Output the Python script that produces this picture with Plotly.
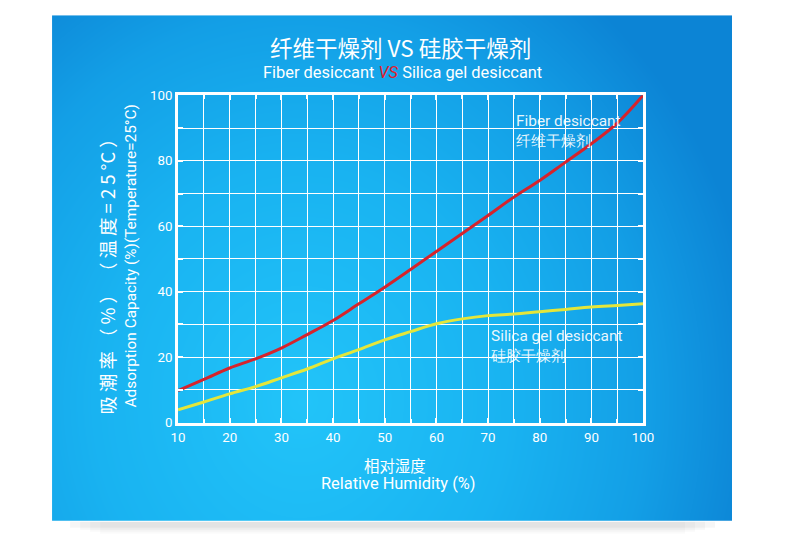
import numpy as np
import plotly.graph_objects as go

# ---------------- data ----------------
humidity = [10, 15, 20, 25, 30, 35, 40, 45, 50, 55, 60, 65, 70, 75, 80, 85, 90, 95, 100]
fiber = [9.8, 13.2, 16.7, 19.5, 22.8, 26.9, 31.2, 36.3, 41.4, 46.8, 52.3, 57.8,
         63.3, 68.9, 74.0, 79.6, 85.2, 91.5, 100.0]
silica = [3.9, 6.3, 8.8, 11.0, 13.7, 16.4, 19.5, 22.3, 25.3, 27.8, 30.2, 31.7,
          32.7, 33.2, 33.9, 34.6, 35.3, 35.8, 36.3]
x_ticks = [10, 20, 30, 40, 50, 60, 70, 80, 90, 100]
y_ticks = [0, 20, 40, 60, 80, 100]

# the photographed page shows an 8px body margin and is scaled slightly;
# map target screen pixel positions to figure fractions
W, H = 793, 543
SX, SY = 809 / 793, 559 / 543
OFF = 8
FS = 1.025  # font compensation

def px(s):
    s = (s + 0.85) / 0.997
    return (s * SX - OFF) / W
def py(s):
    s = s + 1
    return 1 - (s * SY - OFF) / H
def f(size):
    return round(size * FS, 1)

NARROW = "Roboto, sans-serif"
CJK = "Noto Sans CJK SC, sans-serif"

fig = go.Figure()

# background gradient panel (decoration)
gx = np.linspace(0, 680, 69)
gy = np.linspace(0, 505, 52)
GX, GY = np.meshgrid(gx + 52, gy + 15)
Z = np.sqrt(((GX - 300) / 400) ** 2 + ((GY - 400) / 450) ** 2)
fig.add_trace(go.Heatmap(
    x=gx, y=gy, z=Z, zmin=0, zmax=1.15, zsmooth="best", showscale=False,
    hoverinfo="skip",
    colorscale=[[0, "#22C4F9"], [0.45, "#19B3F1"], [0.75, "#139FE6"], [1, "#0C84D5"]],
    xaxis="x", yaxis="y"))

fig.add_trace(go.Scatter(
    x=humidity, y=silica, mode="lines", line=dict(color="#E4E63A", width=3, shape="spline"),
    xaxis="x2", yaxis="y2", cliponaxis=False, showlegend=False))
fig.add_trace(go.Scatter(
    x=humidity, y=fiber, mode="lines", line=dict(color="#D6232C", width=3, shape="spline"),
    xaxis="x2", yaxis="y2", cliponaxis=False, showlegend=False))

ann = []
ann.append(dict(text="纤维干燥剂 VS 硅胶干燥剂", x=px(400), y=py(47), xref="paper", yref="paper",
                showarrow=False, font=dict(family=CJK, size=f(22), color="white"),
                xanchor="center", yanchor="middle"))
ann.append(dict(text="Fiber desiccant <i><span style='color:#E0202E'>VS</span></i> Silica gel desiccant",
                x=px(402), y=py(72), xref="paper", yref="paper", showarrow=False,
                font=dict(family=NARROW, size=f(16), color="white"), xanchor="center", yanchor="middle"))
ann.append(dict(text="吸 潮 率 （ % ） （ 温 度 = 2 5 °C ）", x=px(106), y=py(272), xref="paper", yref="paper",
                showarrow=False, textangle=-90, font=dict(family=CJK, size=f(18), color="white"),
                xanchor="center", yanchor="middle"))
ann.append(dict(text="Adsorption Capacity (%)(Temperature=25°C)", x=px(131), y=py(256), xref="paper",
                yref="paper", showarrow=False, textangle=-90,
                font=dict(family="Roboto, sans-serif", size=f(15), color="white"),
                xanchor="center", yanchor="middle"))
ann.append(dict(text="相对湿度", x=px(395), y=py(464), xref="paper", yref="paper", showarrow=False,
                font=dict(family=CJK, size=f(15), color="white"), xanchor="center", yanchor="middle"))
ann.append(dict(text="Relative Humidity (%)", x=px(398), y=py(483), xref="paper", yref="paper",
                showarrow=False, font=dict(family=NARROW, size=f(16), color="white"),
                xanchor="center", yanchor="middle"))
ann.append(dict(text="Fiber desiccant<br>纤维干燥剂", x=75, y=95.5, xref="x2", yref="y2", showarrow=False,
                align="left", font=dict(family=NARROW, size=f(15), color="rgba(255,255,255,0.92)"),
                xanchor="left", yanchor="top"))
ann.append(dict(text="Silica gel desiccant<br>硅胶干燥剂", x=70, y=29.8, xref="x2", yref="y2",
                showarrow=False, align="left",
                font=dict(family=NARROW, size=f(15), color="rgba(255,255,255,0.92)"),
                xanchor="left", yanchor="top"))

shapes = []
for i, a in enumerate([0.035, 0.03, 0.025, 0.02]):
    shapes.append(dict(type="rect", xref="paper", yref="paper", layer="below",
                       x0=px(70 + i * 10), x1=px(715 - i * 10), y0=py(521), y1=py(527 + i * 2),
                       fillcolor=f"rgba(0,0,0,{a})", line=dict(width=0)))

axis_common = dict(showgrid=True, gridcolor="white", gridwidth=1.3, zeroline=False,
                   ticks="inside", ticklen=5, tickwidth=2, tickcolor="white",
                   showline=True, linecolor="white", linewidth=3, mirror="ticks",
                   tickfont=dict(family=NARROW, size=f(13), color="white"), fixedrange=True)

fig.update_layout(
    width=W, height=H, margin=dict(l=0, r=0, t=0, b=0),
    paper_bgcolor="white", plot_bgcolor="rgba(0,0,0,0)",
    showlegend=False,
    xaxis=dict(domain=[px(52), px(732)], range=[0, 680], visible=False, fixedrange=True, anchor="y"),
    yaxis=dict(domain=[py(520), py(15)], range=[505, 0], visible=False, fixedrange=True, anchor="x"),
    xaxis2=dict(domain=[px(178), px(643)], anchor="y2", range=[10, 100], tickvals=x_ticks,
                minor=dict(tickvals=list(range(15, 100, 10)), showgrid=True, gridcolor="white",
                           gridwidth=1.3, ticks="inside", ticklen=4, tickwidth=2, tickcolor="white"),
                **axis_common),
    yaxis2=dict(domain=[py(422), py(95)], anchor="x2", range=[0, 100], tickvals=y_ticks,
                minor=dict(tickvals=[10, 30, 50, 70, 90], showgrid=True, gridcolor="white",
                           gridwidth=1.3, ticks="inside", ticklen=5, tickwidth=2, tickcolor="white"),
                **axis_common),
    annotations=ann, shapes=shapes,
)

fig.write_html("out.html", config={"displayModeBar": False})
